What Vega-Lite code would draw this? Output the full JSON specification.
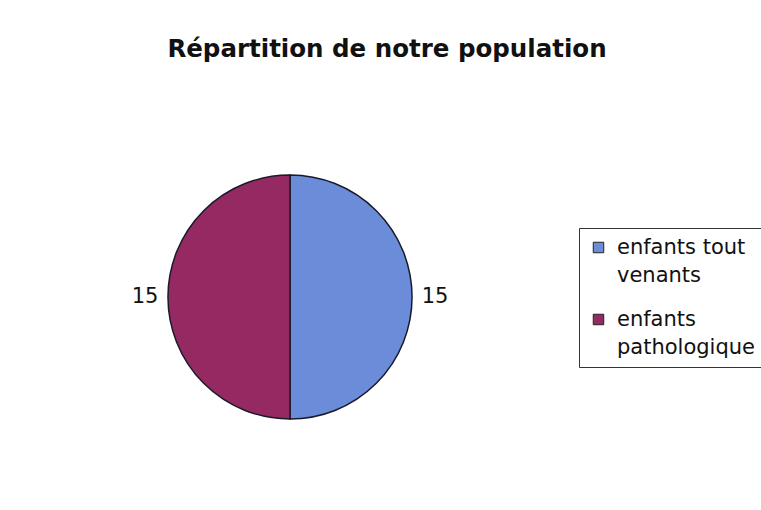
{
  "$schema": "https://vega.github.io/schema/vega-lite/v6.json",
  "width": 244,
  "height": 244,
  "autosize": {"type": "none"},
  "padding": {"left": 168, "top": 175, "right": 349, "bottom": 91},
  "background": "white",
  "config": {"view": {"stroke": null}, "font": "DejaVu Sans"},
  "title": {
    "text": "Répartition de notre population",
    "font": "DejaVu Sans",
    "fontSize": 24.5,
    "fontWeight": "bold",
    "color": "#111",
    "anchor": "middle",
    "dx": 97,
    "offset": 110
  },
  "data": {
    "values": [
      {"categorie": "enfants tout venants", "effectif": 15, "ordre": 1},
      {"categorie": "enfants pathologique", "effectif": 15, "ordre": 2}
    ]
  },
  "encoding": {
    "theta": {"field": "effectif", "type": "quantitative", "stack": true},
    "order": {"field": "ordre", "type": "quantitative"}
  },
  "layer": [
    {
      "mark": {"type": "arc", "stroke": "#1a1a2a", "strokeWidth": 1.5, "outerRadius": 122},
      "encoding": {
        "color": {
          "field": "categorie",
          "type": "nominal",
          "scale": {"domain": ["enfants tout venants", "enfants pathologique"], "range": ["#6b8cd8", "#952a62"]},
          "legend": {
            "title": null,
            "orient": "none",
            "legendX": 411,
            "legendY": 53,
            "strokeColor": "#333",
            "padding": 9,
            "symbolType": "square",
            "symbolSize": 110,
            "symbolStrokeColor": "#222",
            "symbolStrokeWidth": 1,
            "symbolOpacity": 1,
            "labelFont": "DejaVu Sans",
            "labelFontSize": 21,
            "labelColor": "#111",
            "labelOffset": 8,
            "labelLimit": 300,
            "labelBaseline": "middle",
            "rowPadding": 22,
            "labelExpr": "datum.label == 'enfants tout venants' ? ['enfants tout', 'venants'] : ['enfants', 'pathologique']",
            "encode": {"labels": {"update": {"lineHeight": {"value": 28}}}}
          }
        }
      }
    },
    {
      "mark": {"type": "text", "radius": 145, "font": "DejaVu Sans", "fontSize": 21, "color": "#111"},
      "encoding": {
        "text": {"field": "effectif", "type": "quantitative"}
      }
    }
  ]
}
